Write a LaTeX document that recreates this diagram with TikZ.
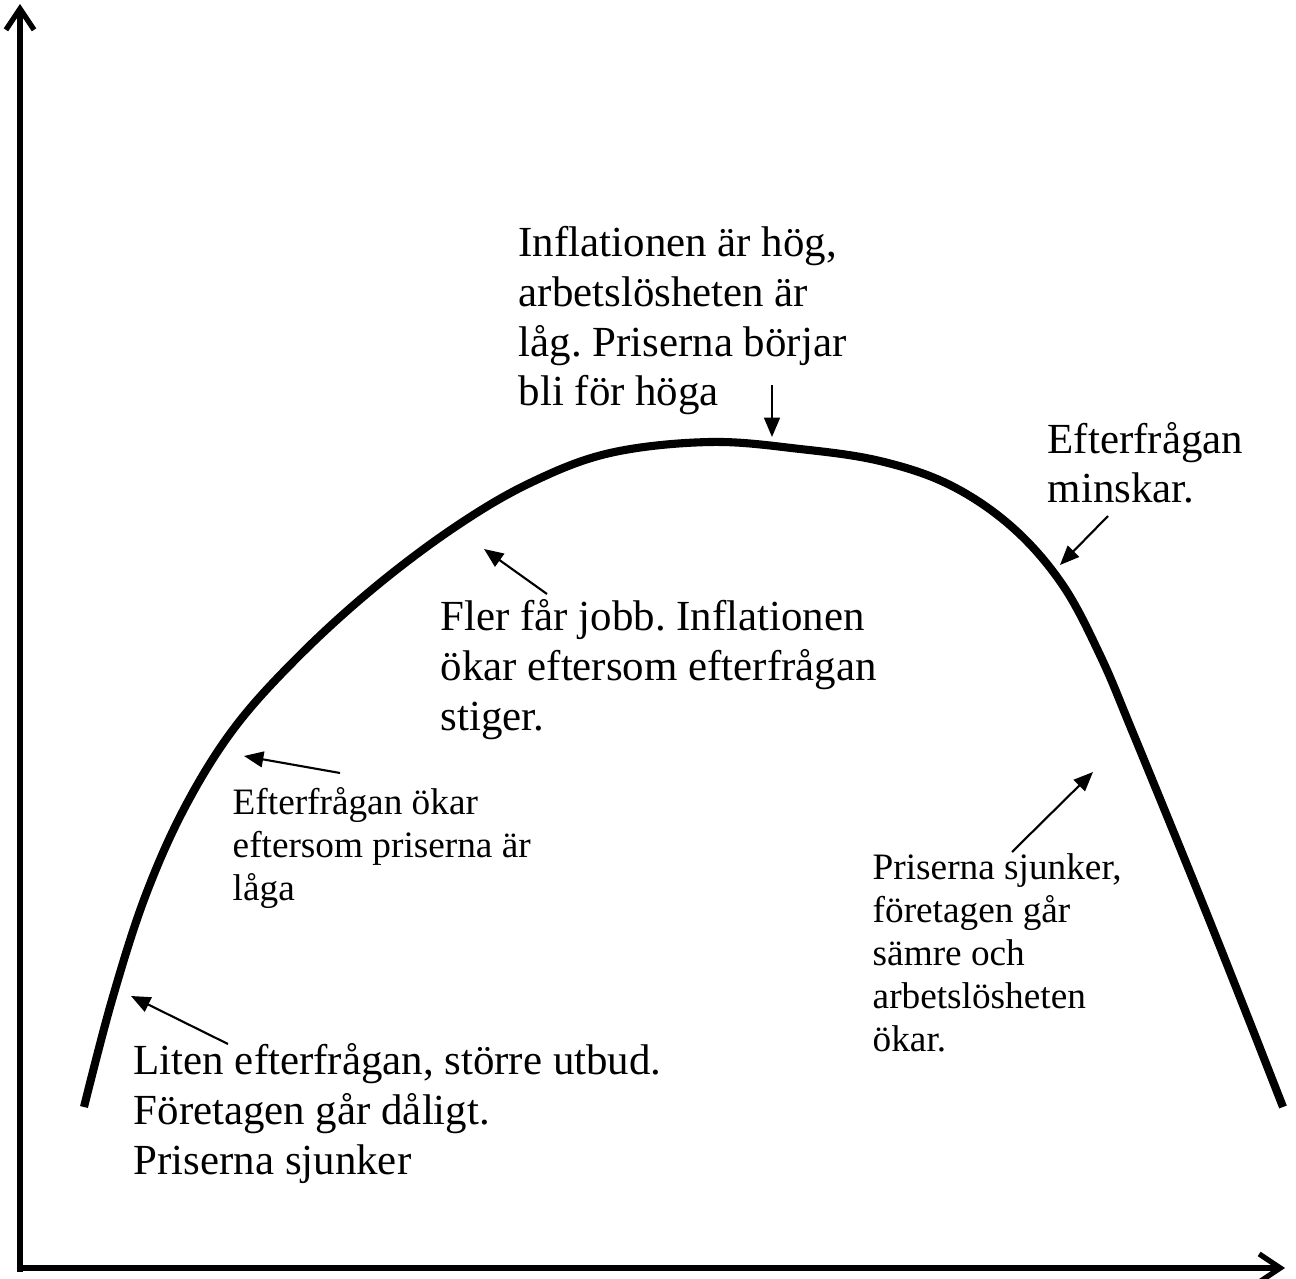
\documentclass[tikz,border=0pt]{standalone}
\usepackage{fontspec}
\setmainfont{Liberation Serif}
\usetikzlibrary{arrows.meta}
\frenchspacing
\begin{document}
\begin{tikzpicture}[x=0.01cm,y=-0.01cm,
  axis/.style={line width=1.5pt,-{Straight Barb[length=6pt,width=8pt,line width=1.5pt]}},
  curve/.style={line width=2.3pt,line join=round},
  pointer/.style={line width=0.6pt,-{Triangle[length=5.5pt,width=4.5pt]}},
  big/.style={font=\fontsize{12.2}{14.2}\selectfont,align=left,anchor=base west,inner sep=0pt},
  small/.style={font=\fontsize{10.6}{12.2}\selectfont,align=left,anchor=base west,inner sep=0pt}]
\useasboundingbox (0,0) rectangle (1296,1279);

% axes
\coordinate (origin) at (20,1268);
\coordinate (ytip) at (20,4);
\coordinate (xtip) at (1285,1268);
\draw[axis] (20,1272) -- (ytip);
\draw[axis] (17,1268) -- (xtip);

% business cycle curve
\draw[curve] plot[smooth,tension=0.6] coordinates {
  (84,1107) (112,1000) (145,897) (185,807) (235,727) (300,655)
  (375,587) (455,527) (530,483) (610,453) (710,442) (800,449)
  (880,461) (950,485) (1012,527) (1062,584) (1100,655) (1133,733)
  (1200,897) (1245,1010) (1283,1107)};

% texts (anchored at the baseline of the last line)
\node[big] (top) at (518,406) {Inflationen är hög,\\arbetslösheten är\\låg. Priserna börjar\\bli för höga};
\node[big] (minsk) at (1047,503) {Efterfrågan\\minskar.};
\node[big] (fler) at (440,730) {Fler får jobb. Inflationen\\ökar eftersom efterfrågan\\stiger.};
\node[small] (okar) at (232,900) {Efterfrågan ökar\\eftersom priserna är\\låga};
\node[small] (sjunk) at (872,1051) {Priserna sjunker,\\företagen går\\sämre och\\arbetslösheten\\ökar.};
\node[big] (liten) at (133,1174) {Liten efterfrågan, större utbud.\\Företagen går dåligt.\\Priserna sjunker};

% pointer arrows
\coordinate (a1s) at (772,385);  \coordinate (a1e) at (772,437);
\coordinate (a2s) at (547,594);  \coordinate (a2e) at (484,549);
\coordinate (a3s) at (1108,516); \coordinate (a3e) at (1060,565);
\coordinate (a4s) at (340,773);  \coordinate (a4e) at (244,756);
\coordinate (a5s) at (228,1044); \coordinate (a5e) at (131,996);
\coordinate (a6s) at (1012,852); \coordinate (a6e) at (1093,772);
\draw[pointer] (a1s) -- (a1e);
\draw[pointer] (a2s) -- (a2e);
\draw[pointer] (a3s) -- (a3e);
\draw[pointer] (a4s) -- (a4e);
\draw[pointer] (a5s) -- (a5e);
\draw[pointer] (a6s) -- (a6e);
\end{tikzpicture}
\end{document}
